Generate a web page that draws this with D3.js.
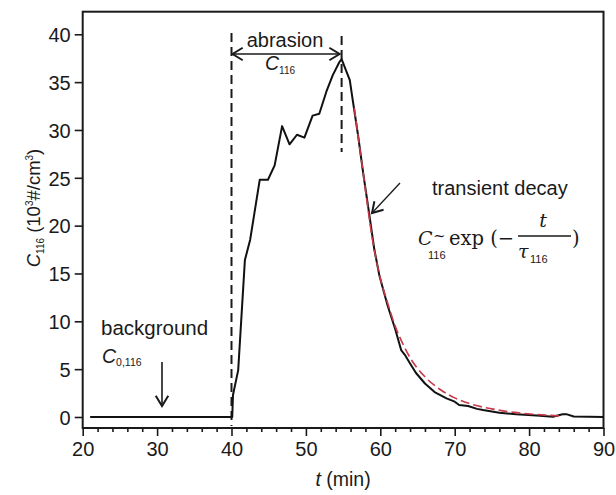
<!DOCTYPE html>
<html><head><meta charset="utf-8">
<script src="https://cdn.jsdelivr.net/npm/d3@7"></script>
<style>body{margin:0;background:#fff}svg{display:block}</style>
</head><body><svg id="c" width="616" height="495"></svg>
<script>
// ---- data ----
const timeMin = [21,40.1,40.2,40.9,41.8,42.5,43.8,44.9,45.8,46.8,47.8,48.8,49.8,50.9,51.8,52.75,53.6,54.5,54.8,55.9,56.3,57,57.7,58.4,59.2,59.9,61,62,62.8,63.3,64,64.8,66,67.3,68.9,70,70.6,71.8,73,73.8,76,78.25,81,83.2,84.5,85,86,90];
const conc116 = [0,0,2.3,4.9,16.4,18.5,24.8,24.8,26.3,30.4,28.5,29.5,29.2,31.5,31.7,34.0,35.7,37.1,37.4,35.2,33.1,29.5,25.5,21.8,17.5,14.7,11.6,9.2,7.0,6.5,5.6,4.6,3.5,2.6,1.95,1.6,1.25,1.15,0.85,0.73,0.45,0.28,0.15,0.03,0.28,0.3,0.05,0];
const fitTime = [56.5,57.7,59,60,61,62,63,64,66,68,70,72,75,78,81,84];
const fitConc = [32.3,25.5,18.3,14.5,11.9,9.5,7.7,6.2,4.2,2.9,2.0,1.4,0.85,0.48,0.26,0.12];
const xTicks = [20,30,40,50,60,70,80,90];
const yTicks = [0,5,10,15,20,25,30,35,40];
const markerTimes = [40, 54.8];

const svg = d3.select("#c");
const L=82.7,R=603.5,T=11.7,B=428;
const x = d3.scaleLinear().domain([20,90]).range([L,R]);
const y = d3.scaleLinear().domain([-1.15,42.36]).range([B,T]);
const font = "'Liberation Sans', Arial, sans-serif";
const serif = "'DejaVu Serif', 'Liberation Serif', serif";
const ink = "#1a1a1a";

// frame
svg.append("rect").attr("x",L).attr("y",T).attr("width",R-L).attr("height",B-T)
  .attr("fill","none").attr("stroke",ink).attr("stroke-width",2);

// axes
const xAx = svg.append("g").attr("transform",`translate(0,${B})`)
  .call(d3.axisBottom(x).tickValues(xTicks).tickSize(8).tickPadding(4).tickFormat(d3.format("d")));
const xMinor = svg.append("g").attr("transform",`translate(0,${B})`)
  .call(d3.axisBottom(x).tickValues(d3.range(22,90,2).filter(v=>v%10!==0)).tickSize(4).tickFormat(""));
const yAx = svg.append("g").attr("transform",`translate(${L},0)`)
  .call(d3.axisLeft(y).tickValues(yTicks).tickSize(8).tickPadding(4).tickFormat(d3.format("d")));
[xAx,xMinor,yAx].forEach(g=>{
  g.select(".domain").remove();
  g.selectAll("line").attr("stroke",ink).attr("stroke-width",1.6);
  g.selectAll("text").attr("font-family",font).attr("font-size",20).attr("fill",ink);
});
xAx.selectAll("text").attr("dy","0.78em");
yAx.selectAll("text").attr("dy","0.36em");

// axis titles
const xt = svg.append("text").attr("x",343).attr("y",486).attr("text-anchor","middle")
  .attr("font-family",font).attr("font-size",19.5).attr("fill",ink);
xt.append("tspan").attr("font-style","italic").text("t");
xt.append("tspan").text(" (min)");
const yt = svg.append("text").attr("transform","translate(40,208) rotate(-90)").attr("text-anchor","middle")
  .attr("font-family",font).attr("font-size",18.5).attr("fill",ink);
yt.append("tspan").attr("font-style","italic").text("C");
yt.append("tspan").attr("font-size",10).attr("dy",4).text("116");
yt.append("tspan").attr("dy",-4).text(" (10");
yt.append("tspan").attr("font-size",10).attr("dy",-7).text("3");
yt.append("tspan").attr("dy",7).text("#/cm");
yt.append("tspan").attr("font-size",10).attr("dy",-7).text("3");
yt.append("tspan").attr("dy",7).text(")");

// dashed markers
svg.append("line").attr("x1",x(markerTimes[0])).attr("x2",x(markerTimes[0])).attr("y1",33).attr("y2",B-2)
  .attr("stroke",ink).attr("stroke-width",2).attr("stroke-dasharray","9,5");
svg.append("line").attr("x1",x(markerTimes[1])).attr("x2",x(markerTimes[1])).attr("y1",36).attr("y2",152)
  .attr("stroke",ink).attr("stroke-width",2).attr("stroke-dasharray","9,5");

// data line
const line = d3.line().x(d=>x(d[0])).y(d=>y(d[1]));
svg.append("path").datum(timeMin.map((t,i)=>[t,conc116[i]]))
  .attr("d",line).attr("fill","none").attr("stroke","#111").attr("stroke-width",2).attr("stroke-linejoin","round");
// fit line
svg.append("path").datum(fitTime.map((t,i)=>[t,fitConc[i]]))
  .attr("d",d3.line().curve(d3.curveMonotoneX).x(d=>x(d[0])).y(d=>y(d[1])))
  .attr("fill","none").attr("stroke","#c83a48").attr("stroke-width",1.6).attr("stroke-dasharray","9,4");

// arrows helper (open V head)
function arrowHead(tx,ty,ang){
  const len=12, spread=0.55;
  const p1=[tx-len*Math.cos(ang-spread), ty-len*Math.sin(ang-spread)];
  const p2=[tx-len*Math.cos(ang+spread), ty-len*Math.sin(ang+spread)];
  svg.append("path").attr("d",`M${p1}L${tx},${ty}L${p2}`).attr("fill","none")
    .attr("stroke",ink).attr("stroke-width",2);
}
// abrasion double arrow
const ax1=x(markerTimes[0])+1, ax2=x(markerTimes[1])-2, ay=54;
svg.append("line").attr("x1",ax1).attr("x2",ax2).attr("y1",ay).attr("y2",ay).attr("stroke",ink).attr("stroke-width",1.6);
arrowHead(ax1,ay,Math.PI); arrowHead(ax2,ay,0);
svg.append("text").attr("x",285).attr("y",47).attr("text-anchor","middle")
  .attr("font-family",font).attr("font-size",20).attr("fill",ink).text("abrasion");
const c1 = svg.append("text").attr("x",280).attr("y",70).attr("text-anchor","middle")
  .attr("font-family",font).attr("font-size",19.5).attr("fill",ink);
c1.append("tspan").attr("font-style","italic").text("C");
c1.append("tspan").attr("font-size",10).attr("dy",4).text("116");

// background annotation
svg.append("text").attr("x",101).attr("y",335).attr("font-family",font).attr("font-size",20.5).attr("fill",ink).text("background");
const c0 = svg.append("text").attr("x",102).attr("y",363).attr("font-family",font).attr("font-size",19.5).attr("fill",ink);
c0.append("tspan").attr("font-style","italic").text("C");
c0.append("tspan").attr("font-size",10.5).attr("dy",3).text("0,116");
svg.append("line").attr("x1",162).attr("x2",162).attr("y1",362).attr("y2",406).attr("stroke",ink).attr("stroke-width",1.6);
arrowHead(162,406,Math.PI/2);

// transient decay annotation
svg.append("text").attr("x",432).attr("y",195).attr("font-family",font).attr("font-size",20).attr("fill",ink).text("transient decay");
svg.append("line").attr("x1",400).attr("y1",183).attr("x2",372).attr("y2",213).attr("stroke",ink).attr("stroke-width",1.3);
arrowHead(372,213,Math.atan2(213-183,372-400));
const f = svg.append("g").attr("fill",ink);
f.append("text").attr("x",418).attr("y",245).attr("font-family",serif).attr("font-style","italic").attr("font-size",19).text("C");
f.append("text").attr("x",433).attr("y",241).attr("font-family",serif).attr("font-size",15).text("~");
f.append("text").attr("x",428).attr("y",258.5).attr("font-family",font).attr("font-size",11).text("116");
f.append("text").attr("x",449).attr("y",245).attr("font-family",serif).attr("font-size",19.5).text("exp (−");
f.append("line").attr("x1",518).attr("x2",571).attr("y1",236).attr("y2",236).attr("stroke",ink).attr("stroke-width",1.3);
f.append("text").attr("x",543).attr("y",227).attr("text-anchor","middle").attr("font-family",serif).attr("font-style","italic").attr("font-size",19).text("t");
f.append("text").attr("x",518).attr("y",258).attr("font-family",serif).attr("font-style","italic").attr("font-size",19).text("τ");
f.append("text").attr("x",530).attr("y",263).attr("font-family",font).attr("font-size",11).text("116");
f.append("text").attr("x",572).attr("y",245).attr("font-family",serif).attr("font-size",19.5).text(")");
</script></body></html>
